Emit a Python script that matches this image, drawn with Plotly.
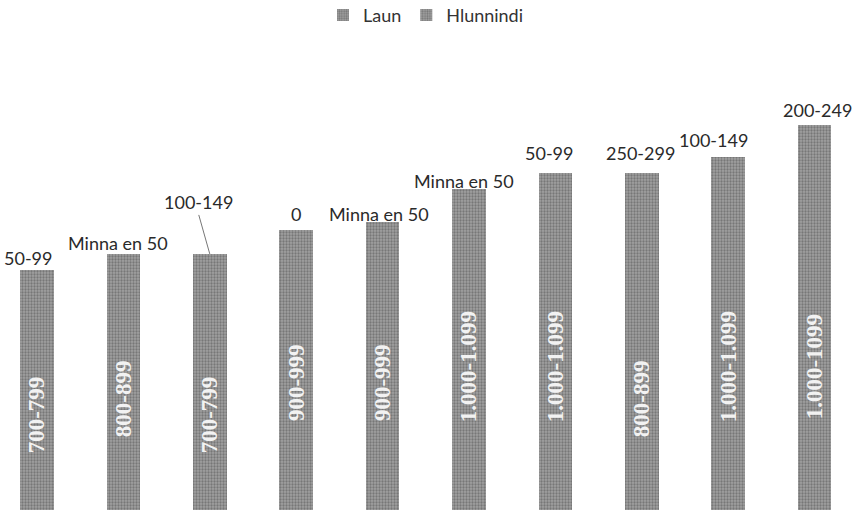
import plotly.graph_objects as go

categories = ["A", "B", "C", "D", "E", "F", "G", "H", "I", "J"]
laun_values = [750, 850, 750, 950, 950, 1050, 1050, 850, 1050, 1050]
laun_labels = ["700-799", "800-899", "700-799", "900-999", "900-999",
               "1.000-1.099", "1.000-1.099", "800-899", "1.000-1.099", "1.000-1099"]
hlunnindi_values = [75, 25, 125, 0, 25, 25, 75, 275, 125, 225]
hlunnindi_labels = ["50-99", "Minna en 50", "100-149", "0", "Minna en 50",
                    "Minna en 50", "50-99", "250-299", "100-149", "200-249"]

# label offsets (pixels) for the outside labels
label_dx = [-9, -5, -11, 0, -4, -5, -6, -1, -15, 3]
label_dy = [12, 11, 39, 16, 8, 8, 20, 20, 17, 15]

BAR = "#858585"
pattern = dict(shape=".", fgcolor="#4e4e4e", bgcolor="#a0a0a0", size=3, solidity=0.45)

fig = go.Figure()
fig.add_trace(go.Bar(
    x=categories, y=laun_values, name="Laun",
    marker=dict(color=BAR, line=dict(width=0), pattern=pattern),
    text=laun_labels, textposition="inside", textangle=-90,
    insidetextanchor="middle",
    insidetextfont=dict(family="Liberation Serif", size=23, color="#f2f2f2", weight="bold"),
    width=0.39,
))
fig.add_trace(go.Bar(
    x=categories, y=hlunnindi_values, name="Hlunnindi",
    marker=dict(color=BAR, line=dict(width=0), pattern=pattern),
    width=0.39,
))

for i, c in enumerate(categories):
    total = laun_values[i] + hlunnindi_values[i]
    if i == 2:
        fig.add_annotation(x=c, y=total, text=hlunnindi_labels[i], showarrow=True,
                           arrowhead=0, arrowwidth=1, arrowcolor="#777",
                           ax=label_dx[i], ay=-label_dy[i], yanchor="bottom",
                           font=dict(family="Lato", size=18, color="#2a2a2a"))
    else:
        fig.add_annotation(x=c, y=total, text=hlunnindi_labels[i], showarrow=False,
                           xshift=label_dx[i], yshift=label_dy[i], yanchor="middle",
                           font=dict(family="Lato", size=18, color="#2a2a2a"))

fig.update_layout(
    width=852, height=510,
    margin=dict(l=0, r=0, t=60, b=0),
    barmode="stack",
    plot_bgcolor="white", paper_bgcolor="white",
    showlegend=True,
    legend=dict(orientation="h", x=0.5, xanchor="center", y=0.97, yanchor="middle",
                yref="container", font=dict(family="Lato", size=18, color="#333"),
                traceorder="normal", itemwidth=30),
    xaxis=dict(visible=False, type="category", range=[-0.428, 9.433]),
    yaxis=dict(visible=False, range=[80, 1477]),
)

fig.write_html("out.html", config={"displayModeBar": False},
               post_script="document.body.style.margin='0';document.body.style.overflow='hidden';")
